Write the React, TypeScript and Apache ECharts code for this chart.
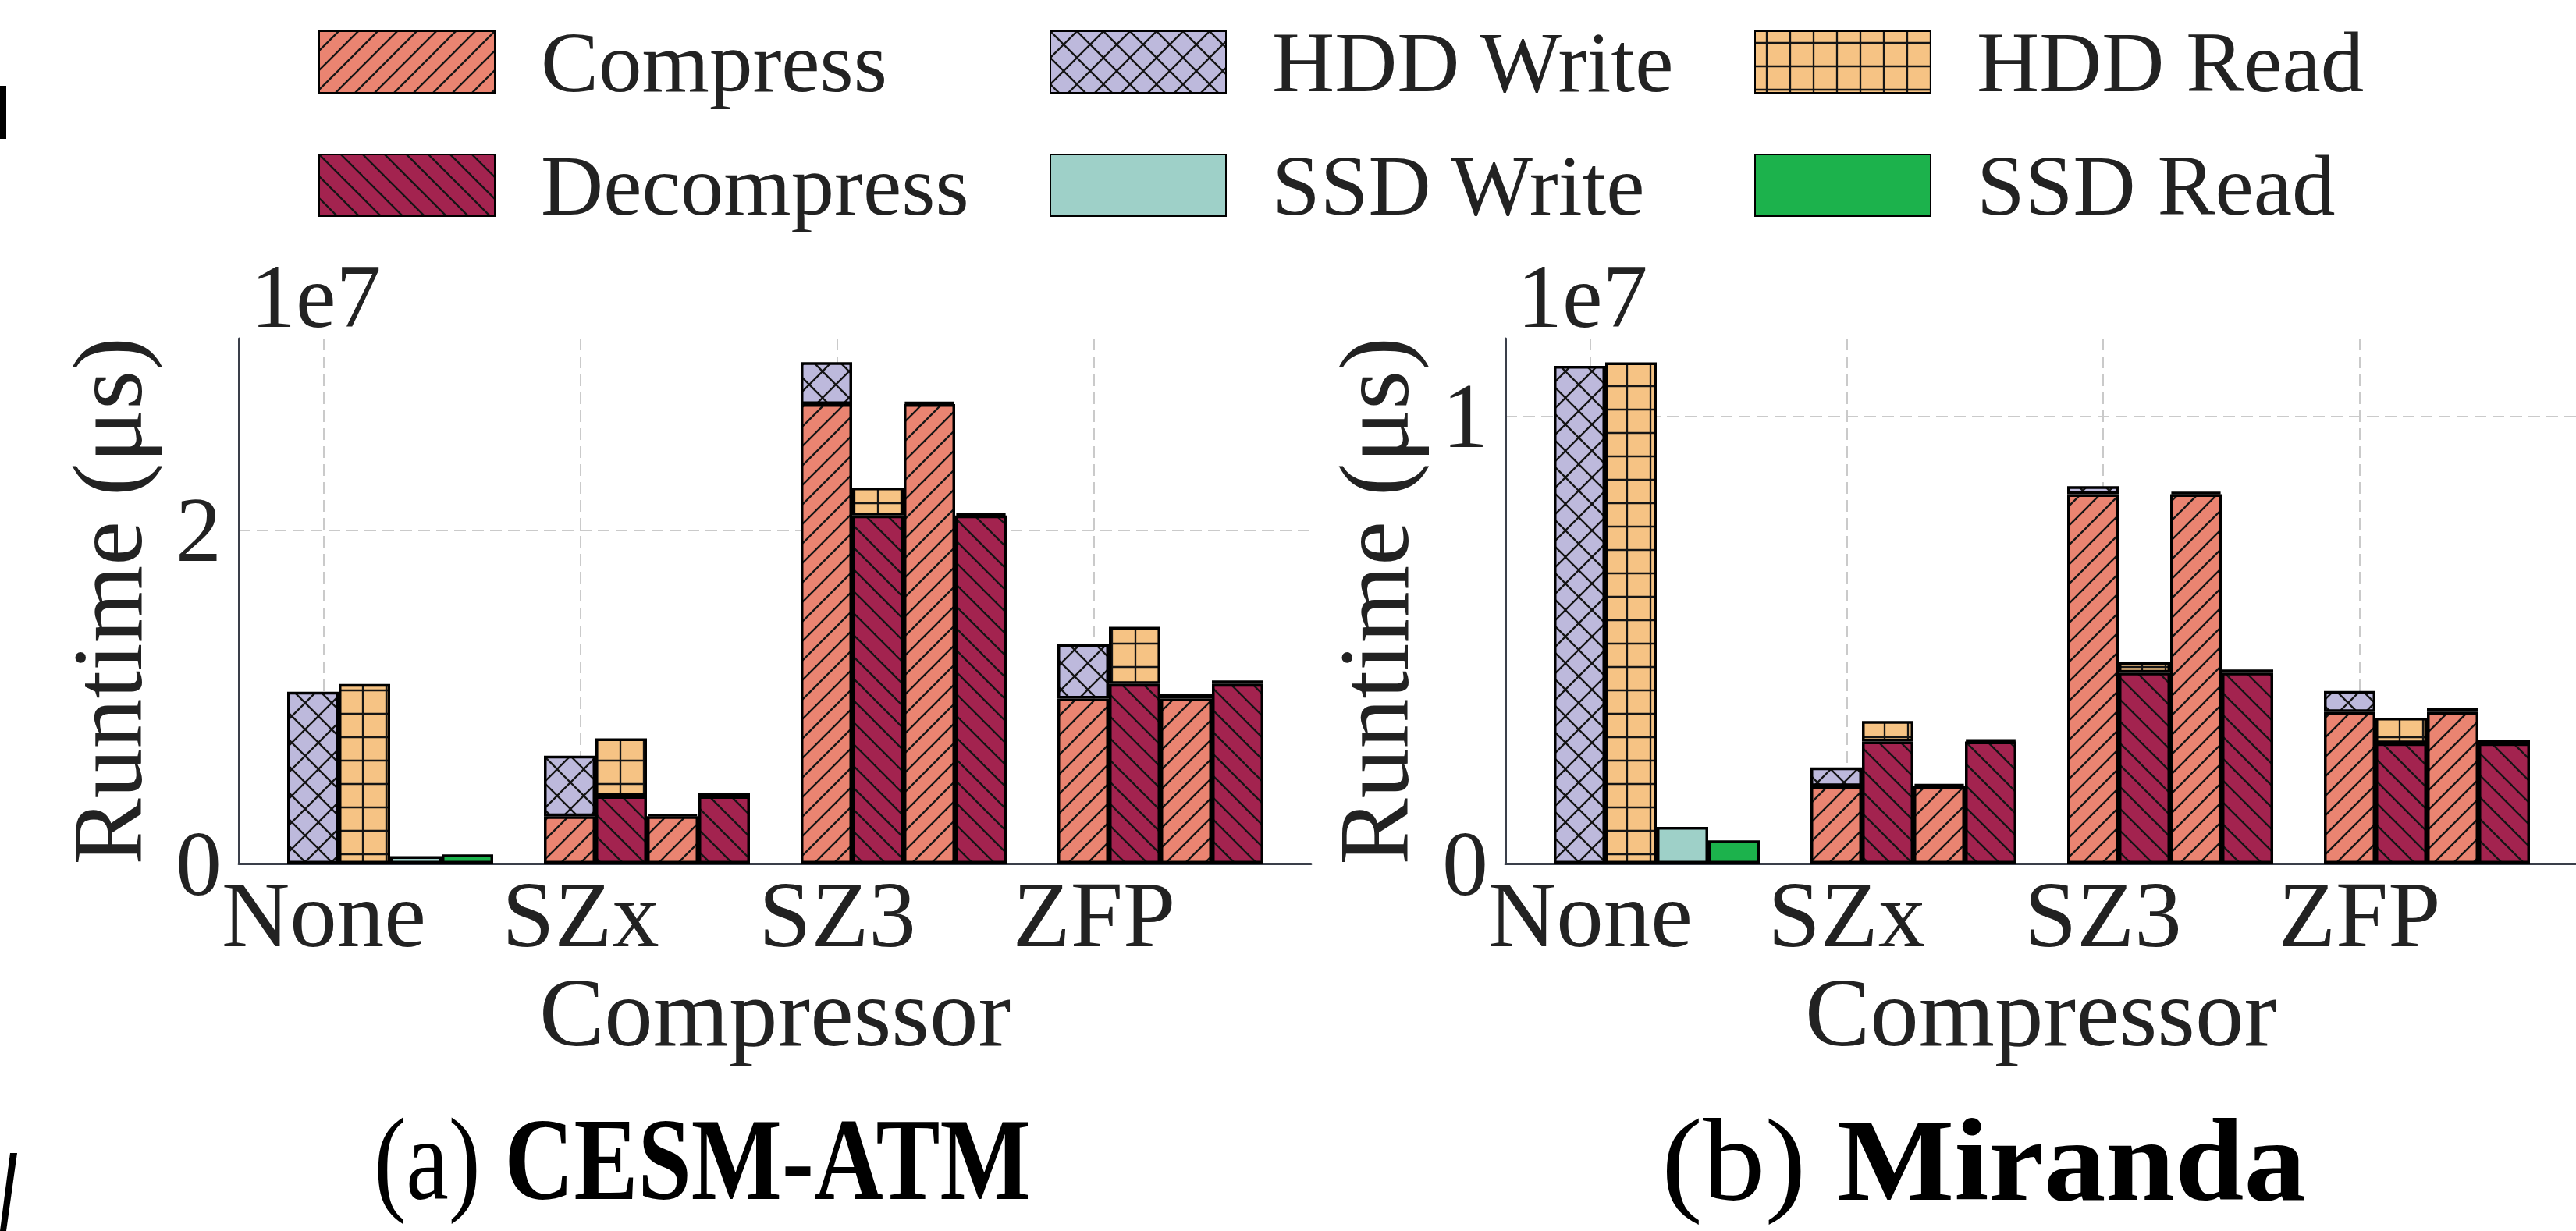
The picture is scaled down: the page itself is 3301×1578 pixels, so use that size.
import React, { useEffect, useRef } from "react";
import * as echarts from "echarts";

// ---------------- data (runtime in units of 1e7 µs) ----------------
const CATEGORIES = ["None", "SZx", "SZ3", "ZFP"];
const X_TICKS = [0, 1, 2, 3];
const Y_TICKS_A = [0, 2];
const Y_TICKS_B = [0, 1];

// (a) CESM-ATM
const compressA = [0, 0.284, 2.759, 0.991];
const decompressA = [0, 0.405, 2.09, 1.078];
const hddWriteA = [1.032, 0.364, 0.251, 0.326];
const hddReadA = [1.078, 0.347, 0.168, 0.343];
const ssdWriteA = [0.045, 0.016, 0.013, 0.025];
const ssdReadA = [0.055, 0.021, 0.013, 0.021];

// (b) Miranda
const compressB = [0, 0.173, 0.826, 0.339];
const decompressB = [0, 0.273, 0.427, 0.269];
const hddWriteB = [1.113, 0.042, 0.018, 0.047];
const hddReadB = [1.121, 0.046, 0.023, 0.057];
const ssdWriteB = [0.082, 0.005, 0.005, 0.008];
const ssdReadB = [0.052, 0.004, 0.007, 0.008];

const SCALE = 1e7;
const Y_MAX_A = 3.152;
const Y_MAX_B = 1.174;

// ---------------- styling ----------------
const FONT = "'Liberation Serif', 'Times New Roman', serif";
const TEXT = "#222";
const COLORS = {
  compress: "#EA8471",
  decompress: "#A3234F",
  hddWrite: "#BDB9DC",
  hddRead: "#F6C384",
  ssdWrite: "#9ED0C8",
  ssdRead: "#1CB24C",
};

function makePattern(bg: string, kind: string, T: number) {
  if (typeof document === "undefined") return bg;
  const c = document.createElement("canvas");
  c.width = T;
  c.height = T;
  const ctx = c.getContext("2d") as CanvasRenderingContext2D;
  ctx.fillStyle = bg;
  ctx.fillRect(0, 0, T, T);
  ctx.strokeStyle = "#151515";
  ctx.lineWidth = 2.3;
  ctx.lineCap = "square";
  const fwd = () => {
    for (const o of [-T, 0, T]) {
      ctx.beginPath();
      ctx.moveTo(o, T);
      ctx.lineTo(o + T, 0);
      ctx.stroke();
    }
  };
  const back = () => {
    for (const o of [-T, 0, T]) {
      ctx.beginPath();
      ctx.moveTo(o, 0);
      ctx.lineTo(o + T, T);
      ctx.stroke();
    }
  };
  if (kind === "fwd") fwd();
  if (kind === "back") back();
  if (kind === "cross") {
    fwd();
    back();
  }
  if (kind === "grid") {
    ctx.lineCap = "butt";
    ctx.beginPath();
    ctx.moveTo(T / 2, 0);
    ctx.lineTo(T / 2, T);
    ctx.moveTo(0, T / 2);
    ctx.lineTo(T, T / 2);
    ctx.stroke();
  }
  return {
    image: c.toDataURL(),
    repeat: "repeat",
    imageWidth: T,
    imageHeight: T,
  };
}

const nz = (arr: number[]) => arr.map((v) => (v === 0 ? "-" : v * SCALE));

export default function App() {
  const ref = useRef<HTMLDivElement>(null);

  useEffect(() => {
    if (!ref.current) return;
    const chart = echarts.init(ref.current, undefined, { renderer: "svg" });

    const fills = {
      compress: makePattern(COLORS.compress, "fwd", 25),
      decompress: makePattern(COLORS.decompress, "back", 28),
      hddWrite: makePattern(COLORS.hddWrite, "cross", 34),
      hddRead: makePattern(COLORS.hddRead, "grid", 30),
      ssdWrite: COLORS.ssdWrite,
      ssdRead: COLORS.ssdRead,
    };

    const itemStyle = (fill: any) => ({
      color: fill,
      borderColor: "#000",
      borderWidth: 3.5,
    });

    const PANEL_DX = 1623;
    const GRID_TOP = 434;
    const GRID_H = 673;
    const MAIN_LEFT = 306;
    const MAIN_W = 1374;
    const BAR_LEFT = 335.5;
    const BAR_W = 1316;

    const grids: any[] = [];
    const xAxes: any[] = [];
    const yAxes: any[] = [];
    const series: any[] = [];

    const panels = [
      {
        yMax: Y_MAX_A,
        yTicks: Y_TICKS_A,
        compress: compressA,
        decompress: decompressA,
        hddWrite: hddWriteA,
        hddRead: hddReadA,
        ssdWrite: ssdWriteA,
        ssdRead: ssdReadA,
      },
      {
        yMax: Y_MAX_B,
        yTicks: Y_TICKS_B,
        compress: compressB,
        decompress: decompressB,
        hddWrite: hddWriteB,
        hddRead: hddReadB,
        ssdWrite: ssdWriteB,
        ssdRead: ssdReadB,
      },
    ];

    panels.forEach((p, pi) => {
      const dx = pi * PANEL_DX;
      const mainIdx = pi * 2;
      const barIdx = pi * 2 + 1;
      grids.push({ left: MAIN_LEFT + dx, top: GRID_TOP, width: MAIN_W, height: GRID_H });
      grids.push({ left: BAR_LEFT + dx, top: GRID_TOP, width: BAR_W, height: GRID_H });

      const dashed = { show: true, lineStyle: { color: "#cacaca", width: 2, type: [15, 8] } };
      xAxes.push({
        gridIndex: mainIdx,
        type: "value",
        min: -0.3313,
        max: 3.845,
        axisLine: { show: true, onZero: false, lineStyle: { color: "#3a3f4a", width: 3 } },
        axisTick: { show: false, customValues: X_TICKS },
        axisLabel: {
          customValues: X_TICKS,
          formatter: (v: number) => CATEGORIES[Math.round(v)] ?? "",
          fontFamily: FONT,
          fontSize: 121,
          color: TEXT,
          margin: 4,
        },
        splitLine: dashed,
        name: "Compressor",
        nameLocation: "middle",
        nameGap: 128,
        nameTextStyle: { fontFamily: FONT, fontSize: 125, color: TEXT },
      });
      xAxes.push({
        gridIndex: barIdx,
        type: "category",
        data: CATEGORIES,
        show: false,
      });
      yAxes.push({
        gridIndex: mainIdx,
        type: "value",
        min: 0,
        max: p.yMax * SCALE,
        axisLine: { show: true, onZero: false, lineStyle: { color: "#3a3f4a", width: 3 } },
        axisTick: { show: false, customValues: p.yTicks.map((t) => t * SCALE) },
        axisLabel: {
          customValues: p.yTicks.map((t) => t * SCALE),
          formatter: (v: number) => String(Math.round(v / SCALE)),
          fontFamily: FONT,
          fontSize: 118,
          color: TEXT,
          margin: 22,
        },
        splitLine: dashed,
        name: "Runtime (μs)",
        nameLocation: "middle",
        nameGap: 104,
        nameTextStyle: { fontFamily: FONT, fontSize: 128, color: TEXT },
      });
      yAxes.push({
        gridIndex: barIdx,
        type: "value",
        min: 0,
        max: p.yMax * SCALE,
        show: false,
        splitLine: { show: false },
      });

      const base = {
        type: "bar",
        xAxisIndex: barIdx,
        yAxisIndex: barIdx,
        barWidth: 66,
        barGap: "0%",
        animation: false,
      };
      const stacks: [string, string, string, string][] = [
        ["Compress", "compress", "HDD Write", "hddWrite"],
        ["Decompress", "decompress", "HDD Read", "hddRead"],
        ["Compress", "compress", "SSD Write", "ssdWrite"],
        ["Decompress", "decompress", "SSD Read", "ssdRead"],
      ];
      stacks.forEach(([n1, k1, n2, k2], si) => {
        const stack = `p${pi}-s${si}`;
        series.push({ ...base, name: n1, stack, data: nz((p as any)[k1]), itemStyle: itemStyle((fills as any)[k1]) });
        series.push({ ...base, name: n2, stack, data: nz((p as any)[k2]), itemStyle: itemStyle((fills as any)[k2]) });
      });
    });

    const legendPos: [string, number, number][] = [
      ["Compress", 408, 24],
      ["HDD Write", 1345, 24],
      ["HDD Read", 2248, 24],
      ["Decompress", 408, 182],
      ["SSD Write", 1345, 182],
      ["SSD Read", 2248, 182],
    ];
    const legends = legendPos.map(([name, left, top]) => ({
      data: [name],
      left,
      top,
      padding: 0,
      icon: "rect",
      itemWidth: 225,
      itemHeight: 79,
      selectedMode: false,
      textStyle: {
        fontFamily: FONT,
        fontSize: 111,
        color: TEXT,
        lineHeight: 79,
        padding: [0, 0, 0, 54],
      },
    }));

    const subtitle = (x: number, label: string, name: string, sx: number) => ({
      type: "text",
      x,
      y: 1487,
      scaleX: sx,
      style: {
        text: `{n|${label} }{b|${name}}`,
        align: "center",
        verticalAlign: "middle",
        rich: {
          n: { fontFamily: FONT, fontSize: 150, lineHeight: 110, fill: "#000" },
          b: { fontFamily: FONT, fontSize: 150, lineHeight: 110, fontWeight: "bold", fill: "#000" },
        },
      },
    });

    const graphic: any[] = [
      {
        type: "text",
        x: 321,
        y: 380,
        style: { text: "1e7", font: `116px ${FONT}`, fill: TEXT, align: "left", verticalAlign: "middle" },
      },
      {
        type: "text",
        x: 321 + PANEL_DX,
        y: 380,
        style: { text: "1e7", font: `116px ${FONT}`, fill: TEXT, align: "left", verticalAlign: "middle" },
      },
      subtitle(900, "(a)", "CESM-ATM", 0.82),
      subtitle(2542, "(b)", "Miranda", 1.06),
      { type: "rect", shape: { x: 0, y: 110, width: 8, height: 68 }, style: { fill: "#000" } },
      {
        type: "polygon",
        shape: { points: [[13, 1478], [22, 1478], [8, 1578], [0, 1578]] },
        style: { fill: "#000" },
      },
    ];

    chart.setOption({
      animation: false,
      backgroundColor: "#fff",
      textStyle: { fontFamily: FONT },
      grid: grids,
      xAxis: xAxes,
      yAxis: yAxes,
      legend: legends,
      series,
      graphic,
    });

    return () => chart.dispose();
  }, []);

  return (
    <div
      ref={ref}
      style={{ position: "fixed", left: 0, top: 0, width: 3301, height: 1578, background: "#fff" }}
    />
  );
}
